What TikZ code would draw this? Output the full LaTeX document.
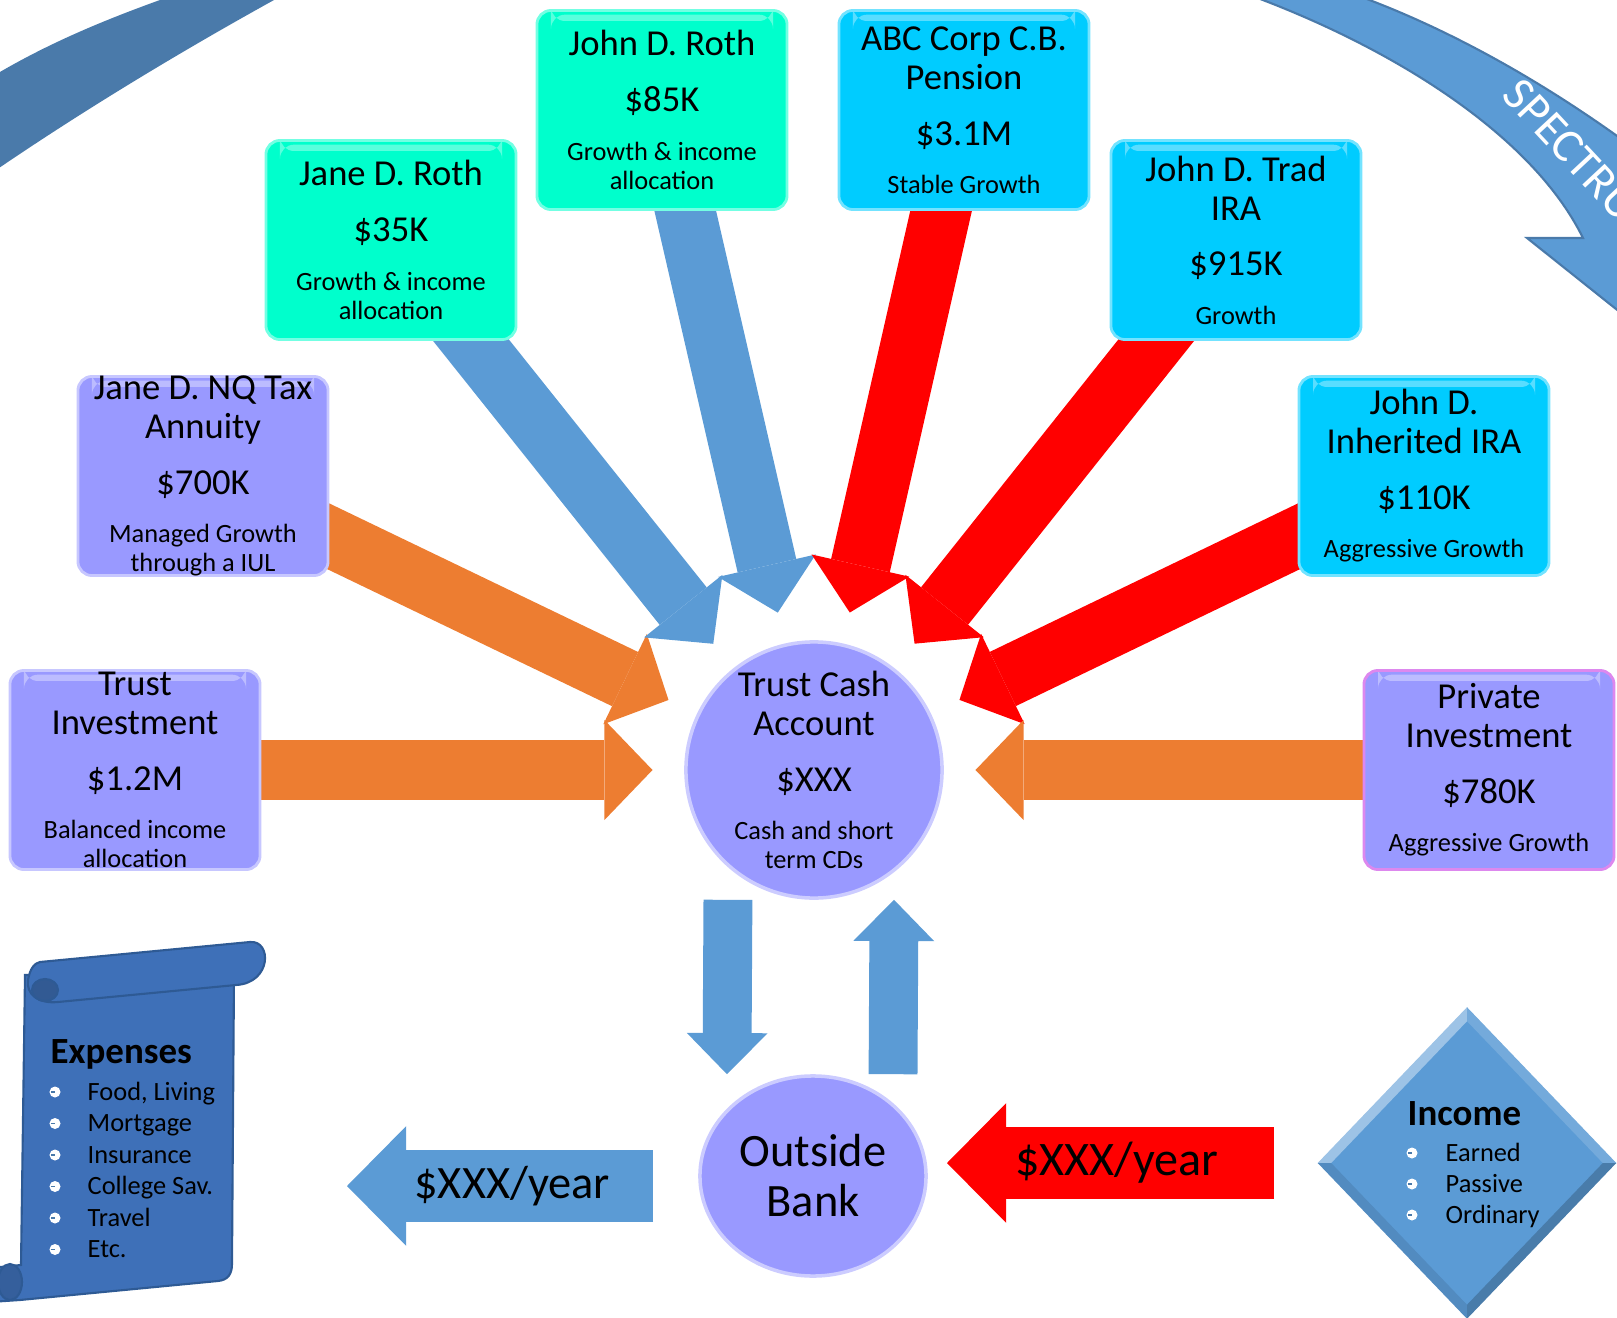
\documentclass[tikz,border=0pt]{standalone}
\usepackage{fontspec}
\setmainfont{Carlito}
\usetikzlibrary{arrows.meta,shapes.geometric,backgrounds,calc}

\definecolor{aqua}{HTML}{00FFCC}
\definecolor{sky}{HTML}{00CCFF}
\definecolor{lav}{HTML}{9999FF}
\definecolor{orng}{HTML}{ED7D31}
\definecolor{steel}{HTML}{5B9BD5}
\definecolor{steeldark}{HTML}{4A7AAA}
\definecolor{scrollblue}{HTML}{3E70B8}
\definecolor{scrolledge}{HTML}{2E5A94}
\definecolor{pinkedge}{HTML}{DD88EE}

\newcommand\titlefont{\fontsize{10.4}{11.1}\selectfont}
\newcommand\notefont{\fontsize{7.5}{8.3}\selectfont}
\newcommand\bigfont{\fontsize{13.2}{14.2}\selectfont}
\newcommand\headfont{\fontsize{10.5}{11}\selectfont\bfseries}

\tikzset{
  acct/.style={rectangle, rounded corners=4pt, fill=#1, draw=#1!55!white, line width=0.8pt,
    minimum width=2.5cm, minimum height=1.99cm, inner xsep=0pt, inner ysep=-8pt,
    align=center, font=\titlefont,
    path picture={\fill[white, opacity=0.35]
      ([xshift=4pt,yshift=-1.2pt]path picture bounding box.north west) rectangle
      ([xshift=-4pt,yshift=-3pt]path picture bounding box.north east);}},
  radial/.style={draw=#1, line width=17.1pt,
    -{Triangle[length=13.7pt,width=28.5pt,line width=0pt]}, shorten >=9pt},
  vflow/.style={draw=steel, line width=13.9pt,
    -{Triangle[length=11.7pt,width=23pt,line width=0pt]}},
  yearflow/.style={draw=#1, line width=20.5pt,
    -{Triangle[length=16.8pt,width=34pt,line width=0pt]}},
  listtext/.style={anchor=base west, inner sep=0pt, font=\notefont},
  bulletdot/.style={circle, fill=white, inner sep=0pt, minimum size=0.11cm,
    path picture={\draw[steeldark, line width=0.5pt]
      ([xshift=0.4pt]path picture bounding box.west) -- (path picture bounding box.center);}},
}

\begin{document}
\begin{tikzpicture}[x=0.01cm, y=-0.01cm]
\useasboundingbox (0,0) rectangle (1617,1318);

% spectrum band round the top
\begin{scope}
  \clip (0,0) rectangle (1617,1318);
  \fill[steeldark] (-40,97) .. controls (30,50) and (100,20) .. (200,-14) -- (320,-25)
    .. controls (180,50) and (60,125) .. (-30,188) -- cycle;
  \filldraw[fill=steel, draw=steeldark, line width=0.6pt] (1230,-12)
    .. controls (1380,40) and (1530,130) .. (1583,238) -- (1527,238) -- (1700,376)
    -- (1720,200) -- (1700,200) .. controls (1580,100) and (1450,25) .. (1330,-14) -- cycle;
  \node[text=white, font=\fontsize{13.5}{14}\selectfont, rotate=-47, anchor=base west, inner sep=0pt]
    (spectrum) at (1500,96) {SPECTRUM};
\end{scope}

% accounts
\node[acct=aqua] (janeroth) at (391,240)
  {Jane D. Roth\\[4.8pt]\$35K\\[2.6pt]{\notefont Growth \& income}\\[-2.8pt]{\notefont allocation}};
\node[acct=aqua] (johnroth) at (662,110)
  {John D. Roth\\[4.8pt]\$85K\\[2.6pt]{\notefont Growth \& income}\\[-2.8pt]{\notefont allocation}};
\node[acct=sky] (pension) at (964,110)
  {ABC Corp C.B.\\Pension\\[4.8pt]\$3.1M\\[2.6pt]{\notefont Stable Growth}};
\node[acct=sky] (tradira) at (1236,240)
  {John D. Trad\\IRA\\[4.8pt]\$915K\\[2.6pt]{\notefont Growth}};
\node[acct=lav] (annuity) at (203,476)
  {Jane D. NQ Tax\\Annuity\\[4.8pt]\$700K\\[2.6pt]{\notefont Managed Growth}\\[-2.8pt]{\notefont through a IUL}};
\node[acct=sky] (inherited) at (1424,476)
  {John D.\\Inherited IRA\\[4.8pt]\$110K\\[2.6pt]{\notefont Aggressive Growth}};
\node[acct=lav] (trust) at (135,770)
  {Trust\\Investment\\[4.8pt]\$1.2M\\[2.6pt]{\notefont Balanced income}\\[-2.8pt]{\notefont allocation}};
\node[acct=lav, draw=pinkedge] (private) at (1489,770)
  {Private\\Investment\\[4.8pt]\$780K\\[2.6pt]{\notefont Aggressive Growth}};

% cash account and bank
\node[circle, fill=lav, draw=lav!50!white, line width=1pt, minimum size=2.56cm, inner sep=0pt] (cash) at (814,770) {};
\node[align=center, font=\titlefont] (cashtext) at (cash)
  {Trust Cash\\Account\\[4.8pt]\$XXX\\[2.6pt]{\notefont Cash and short}\\[-2.8pt]{\notefont term CDs}};
\node[ellipse, fill=lav, draw=lav!50!white, line width=1pt, minimum width=2.26cm, minimum height=2cm, inner sep=0pt] (bank) at (813,1176) {};
\node[align=center, font=\bigfont] (banktext) at (bank) {Outside\\Bank};

% income diamond
\node[diamond, fill=steel, minimum width=2.97cm, minimum height=3.1cm, inner sep=0pt] (income) at (1467,1163) {};
\fill[steel!60!white] (income.north) -- (income.west) -- ($(income.west)!0.09!(income.center)$) -- ($(income.north)!0.09!(income.center)$) -- cycle;
\fill[steel!85!white] (income.north) -- (income.east) -- ($(income.east)!0.09!(income.center)$) -- ($(income.north)!0.09!(income.center)$) -- cycle;
\fill[steel!90!black] (income.south) -- (income.west) -- ($(income.west)!0.09!(income.center)$) -- ($(income.south)!0.09!(income.center)$) -- cycle;
\fill[steel!80!black] (income.south) -- (income.east) -- ($(income.east)!0.09!(income.center)$) -- ($(income.south)!0.09!(income.center)$) -- cycle;
\node[anchor=base west, inner sep=0pt, font=\headfont] (incometitle) at (1407,1125) {Income};
\foreach \txt [count=\i] in {Earned,Passive,Ordinary} {
  \node[bulletdot] at (1412,{1153+31*\i-31}) {};
  \node[listtext] at (1445,{1161+31*\i-31}) {\txt};
}

% expenses scroll
\filldraw[fill=scrollblue, draw=scrolledge, line width=0.6pt] (25,975) -- (21,1265) -- (-10,1268) -- (-10,1302)
  -- (20,1300) -- (218,1281) .. controls (228,1280) and (232,1274) .. (232,1264) -- (234,975) -- cycle;
\filldraw[fill=scrollblue!85!black, draw=scrolledge, line width=0.6pt] (10,1282) ellipse (12 and 18);
\filldraw[fill=scrollblue, draw=scrolledge, line width=0.6pt] (40,962) -- (250,942)
  .. controls (272,940) and (272,983) .. (236,985) -- (58,1002)
  .. controls (38,1004) and (26,994) .. (28,980) .. controls (30,968) and (35,963) .. (40,962) -- cycle;
\filldraw[fill=scrollblue!80!black, draw=scrolledge, line width=0.6pt] (45,990) ellipse (13 and 11);
\node[anchor=base west, inner sep=0pt, font=\headfont] (expensetitle) at (50,1063) {Expenses};
\foreach \txt [count=\i] in {{Food, Living},Mortgage,Insurance,{College Sav.},Travel,Etc.} {
  \node[bulletdot] at (55,{1092+31.5*\i-31.5}) {};
  \node[listtext] at (87,{1100+31.5*\i-31.5}) {\txt};
}

% flows into the cash account
\begin{scope}[on background layer]
  \draw[radial=orng] (trust.center) -- (cash);
  \draw[radial=orng] (annuity.center) -- (cash);
  \draw[radial=steel] (janeroth.center) -- (cash);
  \draw[radial=steel] (johnroth.center) -- (cash);
  \draw[radial=red] (pension.center) -- (cash);
  \draw[radial=red] (tradira.center) -- (cash);
  \draw[radial=red] (inherited.center) -- (cash);
  \draw[radial=orng] (private.center) -- (cash);
\end{scope}

% cash <-> bank
\draw[vflow] ([xshift=-0.86cm]cash.south) -- ([xshift=-0.86cm]bank.north);
\draw[vflow] ([xshift=0.8cm]bank.north) -- ([xshift=0.8cm]cash.south);

% yearly amounts
\coordinate (spendtail) at (653,1186);
\coordinate (spendtip) at (347,1186);
\coordinate (earntail) at (1274,1163);
\coordinate (earntip) at (947,1163);
\draw[yearflow=steel] (spendtail) -- (spendtip) node[pos=0.46, text=black, font=\bigfont] (spend) {\$XXX/year};
\draw[yearflow=red] (earntail) -- (earntip) node[pos=0.48, text=black, font=\fontsize{13.7}{14.5}\selectfont] (earn) {\$XXX/year};
\end{tikzpicture}
\end{document}
